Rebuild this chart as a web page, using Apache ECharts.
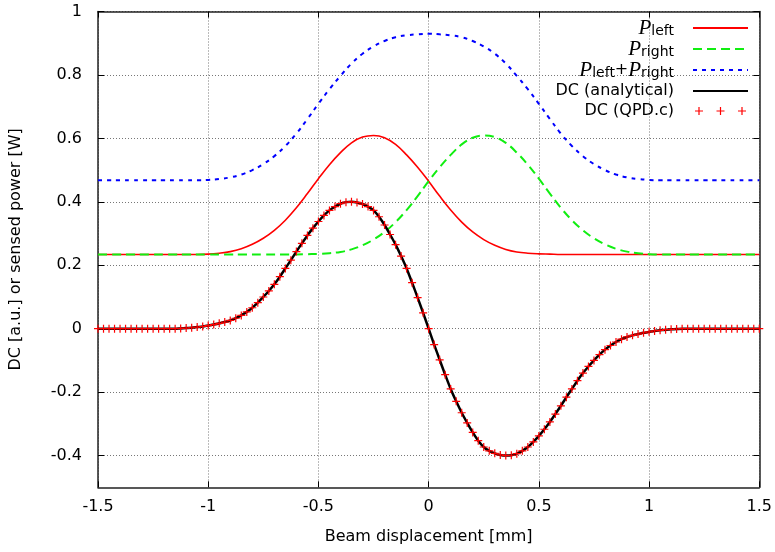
<!DOCTYPE html>
<html><head><meta charset="utf-8">
<script src="https://cdn.jsdelivr.net/npm/echarts@6/dist/echarts.min.js"></script>
<style>html,body{margin:0;padding:0;background:#fff}#c{width:775px;height:552px}</style>
</head><body><div id="c"></div>
<script>
// ---- data ----
const xTicks = [-1.5, -1, -0.5, 0, 0.5, 1, 1.5];
const yTicks = [-0.4, -0.2, 0, 0.2, 0.4, 0.6, 0.8, 1];

const powerX = [-1.5,-1.45,-1.4,-1.35,-1.3,-1.25,-1.2,-1.15,-1.1,-1.05,-1,-0.95,-0.9,-0.85,-0.8,-0.75,-0.7,-0.65,-0.6,-0.55,-0.5,-0.45,-0.4,-0.35,-0.3,-0.25,-0.2,-0.15,-0.1,-0.05,0,0.05,0.1,0.15,0.2,0.25,0.3,0.35,0.4,0.45,0.5,0.55,0.6,0.65,0.7,0.75,0.8,0.85,0.9,0.95,1,1.05,1.1,1.15,1.2,1.25,1.3,1.35,1.4,1.45,1.5];

const pLeft = [0.234,0.234,0.234,0.234,0.234,0.234,0.234,0.234,0.234,0.234,0.235,0.238,0.243,0.252,0.266,0.285,0.310,0.342,0.381,0.426,0.473,0.517,0.555,0.586,0.604,0.609,0.602,0.581,0.548,0.509,0.465,0.418,0.374,0.336,0.305,0.281,0.263,0.250,0.242,0.238,0.236,0.235,0.234,0.234,0.234,0.234,0.234,0.234,0.234,0.234,0.234,0.234,0.234,0.234,0.234,0.234,0.234,0.234,0.234,0.234,0.234];

const pRight = [0.234,0.234,0.234,0.234,0.234,0.234,0.234,0.234,0.234,0.234,0.234,0.234,0.234,0.234,0.234,0.234,0.234,0.234,0.234,0.235,0.236,0.238,0.242,0.250,0.263,0.281,0.305,0.336,0.374,0.418,0.465,0.509,0.548,0.581,0.602,0.609,0.604,0.586,0.555,0.517,0.473,0.426,0.381,0.342,0.310,0.285,0.266,0.252,0.243,0.238,0.235,0.234,0.234,0.234,0.234,0.234,0.234,0.234,0.234,0.234,0.234];

const pSum = [0.468,0.468,0.468,0.468,0.468,0.468,0.468,0.468,0.468,0.468,0.469,0.472,0.477,0.486,0.500,0.519,0.544,0.576,0.615,0.661,0.709,0.755,0.797,0.836,0.867,0.890,0.907,0.919,0.925,0.928,0.930,0.928,0.925,0.919,0.907,0.890,0.867,0.836,0.797,0.755,0.709,0.661,0.615,0.576,0.544,0.519,0.500,0.486,0.477,0.472,0.469,0.468,0.468,0.468,0.468,0.468,0.468,0.468,0.468,0.468,0.468];

const dcX = [-1.5,-1.475,-1.45,-1.425,-1.4,-1.375,-1.35,-1.325,-1.3,-1.275,-1.25,-1.225,-1.2,-1.175,-1.15,-1.125,-1.1,-1.075,-1.05,-1.025,-1,-0.975,-0.95,-0.925,-0.9,-0.875,-0.85,-0.825,-0.8,-0.775,-0.75,-0.725,-0.7,-0.675,-0.65,-0.625,-0.6,-0.575,-0.55,-0.525,-0.5,-0.475,-0.45,-0.425,-0.4,-0.375,-0.35,-0.325,-0.3,-0.275,-0.25,-0.225,-0.2,-0.175,-0.15,-0.125,-0.1,-0.075,-0.05,-0.025,0,0.025,0.05,0.075,0.1,0.125,0.15,0.175,0.2,0.225,0.25,0.275,0.3,0.325,0.35,0.375,0.4,0.425,0.45,0.475,0.5,0.525,0.55,0.575,0.6,0.625,0.65,0.675,0.7,0.725,0.75,0.775,0.8,0.825,0.85,0.875,0.9,0.925,0.95,0.975,1,1.025,1.05,1.075,1.1,1.125,1.15,1.175,1.2,1.225,1.25,1.275,1.3,1.325,1.35,1.375,1.4,1.425,1.45,1.475,1.5];

const dcValues = [0,0,0,0,0,0,0,0,0,0,0,0,0,0,0,
 0.001,0.002,0.003,0.005,0.007,
 0.010,0.013,0.017,0.021,0.026,
 0.033,0.042,0.053,0.066,0.082,
 0.100,0.119,0.140,0.164,0.190,
 0.216,0.243,0.269,0.294,0.317,
 0.338,0.357,0.373,0.385,0.394,
 0.399,0.400,0.398,0.393,0.385,
 0.373,0.353,0.327,0.297,0.265,
 0.229,0.190,0.145,0.098,0.050,
 0,
 -0.050,-0.098,-0.145,-0.190,-0.229,
 -0.265,-0.297,-0.327,-0.353,-0.373,
 -0.385,-0.393,-0.398,-0.400,-0.399,
 -0.394,-0.385,-0.373,-0.357,-0.338,
 -0.317,-0.294,-0.269,-0.243,-0.216,
 -0.190,-0.164,-0.140,-0.119,-0.100,
 -0.082,-0.066,-0.053,-0.042,-0.033,
 -0.026,-0.021,-0.017,-0.013,-0.010,
 -0.007,-0.005,-0.003,-0.002,-0.001,
 0,0,0,0,0,0,0,0,0,0,0,0,0,0,0];

const seriesNames = ['P_left', 'P_right', 'P_left+P_right', 'DC (analytical)', 'DC (QPD.c)'];
const legendLabels = {
  'P_left': '{p|P}{s|left}',
  'P_right': '{p|P}{s|right}',
  'P_left+P_right': '{p|P}{s|left}+{p|P}{s|right}',
  'DC (analytical)': 'DC (analytical)',
  'DC (QPD.c)': 'DC (QPD.c)'
};

function pairs(xs, ys) { return xs.map((x, i) => [x, ys[i]]); }

const FONT = 'DejaVu Sans';
const plusPath = 'path://M3.4,0h1.2v8h-1.2zM0,3.4h8v1.2h-8z';
const plusesLegend = 'path://M3.4,0h1.2v8h-1.2zM0,3.4h8v1.2h-8zM24.9,0h1.2v8h-1.2zM21.5,3.4h8v1.2h-8zM46.4,0h1.2v8h-1.2zM43,3.4h8v1.2h-8z';

const chart = echarts.init(document.getElementById('c'), null, {renderer: 'canvas'});
const axisLineStyle = {color: '#222', width: 1.5};
const gridLineStyle = {color: '#777', width: 1, type: [1, 2]};
const tickStyle = {color: '#000', width: 1};

chart.setOption({
  animation: false,
  backgroundColor: '#fff',
  textStyle: {fontFamily: FONT},
  grid: {left: 98, right: 12.5, top: 11.5, bottom: 64.7, containLabel: false},
  xAxis: [{
    type: 'value', min: -1.5, max: 1.5, interval: 0.5, position: 'bottom',
    name: 'Beam displacement [mm]', nameLocation: 'middle', nameGap: 42,
    nameTextStyle: {fontFamily: FONT, fontSize: 16, color: '#000'},
    axisLine: {show: true, onZero: false, lineStyle: axisLineStyle},
    axisTick: {show: true, inside: true, length: 6, lineStyle: tickStyle},
    axisLabel: {fontFamily: FONT, fontSize: 16, color: '#000', margin: 12},
    splitLine: {show: true, lineStyle: gridLineStyle}
  }, {
    type: 'value', min: -1.5, max: 1.5, interval: 0.5, position: 'top',
    axisLine: {show: true, onZero: false, lineStyle: axisLineStyle},
    axisTick: {show: true, inside: true, length: 6, lineStyle: tickStyle},
    axisLabel: {show: false}, splitLine: {show: false}
  }],
  yAxis: [{
    type: 'value', min: -0.5, max: 1, position: 'left',
    name: 'DC [a.u.] or sensed power [W]', nameLocation: 'middle', nameGap: 74, nameRotate: 90,
    nameTextStyle: {fontFamily: FONT, fontSize: 16, color: '#000'},
    axisLine: {show: true, onZero: false, lineStyle: axisLineStyle},
    axisTick: {show: true, inside: true, length: 6, customValues: yTicks, lineStyle: tickStyle},
    axisLabel: {fontFamily: FONT, fontSize: 16, color: '#000', margin: 16, customValues: yTicks},
    splitLine: {show: true, lineStyle: gridLineStyle}
  }, {
    type: 'value', min: -0.5, max: 1, position: 'right',
    axisLine: {show: true, onZero: false, lineStyle: axisLineStyle},
    axisTick: {show: true, inside: true, length: 6, customValues: yTicks, lineStyle: tickStyle},
    axisLabel: {show: false, customValues: yTicks}, splitLine: {show: false}
  }],
  legend: {
    orient: 'vertical', align: 'right', right: 26, top: 18, padding: 0,
    itemWidth: 55, itemHeight: 8, itemGap: 0,
    selectedMode: false,
    formatter: name => legendLabels[name],
    textStyle: {
      fontFamily: FONT, fontSize: 16, lineHeight: 20, color: '#000',
      padding: [0, 14, 0, 0],
      rich: {
        p: {fontFamily: 'Liberation Serif', fontStyle: 'italic', fontSize: 21, lineHeight: 20, verticalAlign: 'top', color: '#000'},
        s: {fontFamily: FONT, fontSize: 14, lineHeight: 14, verticalAlign: 'bottom', color: '#000'}
      }
    },
    data: [
      {name: 'P_left', itemStyle: {opacity: 0}},
      {name: 'P_right', itemStyle: {opacity: 0}},
      {name: 'P_left+P_right', itemStyle: {opacity: 0}},
      {name: 'DC (analytical)', itemStyle: {opacity: 0}},
      {name: 'DC (QPD.c)', icon: plusesLegend}
    ]
  },
  series: [
    {name: seriesNames[0], type: 'line', data: pairs(powerX, pLeft), smooth: 0.4, symbol: 'none',
     lineStyle: {color: '#ff0000', width: 1.6}, itemStyle: {color: '#ff0000'}, z: 2},
    {name: seriesNames[1], type: 'line', data: pairs(powerX, pRight), smooth: 0.4, symbol: 'none',
     lineStyle: {color: '#11ee11', width: 2, type: [9, 5]}, itemStyle: {color: '#11ee11'}, z: 2},
    {name: seriesNames[2], type: 'line', data: pairs(powerX, pSum), smooth: 0.4, symbol: 'none',
     lineStyle: {color: '#0000ff', width: 2, type: [4, 5]}, itemStyle: {color: '#0000ff'}, z: 2},
    {name: seriesNames[3], type: 'line', data: pairs(dcX, dcValues), smooth: 0.3, symbol: 'none',
     lineStyle: {color: '#000', width: 2.5}, itemStyle: {color: '#000'}, z: 3},
    {name: seriesNames[4], type: 'scatter', data: pairs(dcX, dcValues), symbol: plusPath, symbolSize: 8,
     itemStyle: {color: '#ff0000', opacity: 1}, z: 4}
  ]
});
</script></body></html>
